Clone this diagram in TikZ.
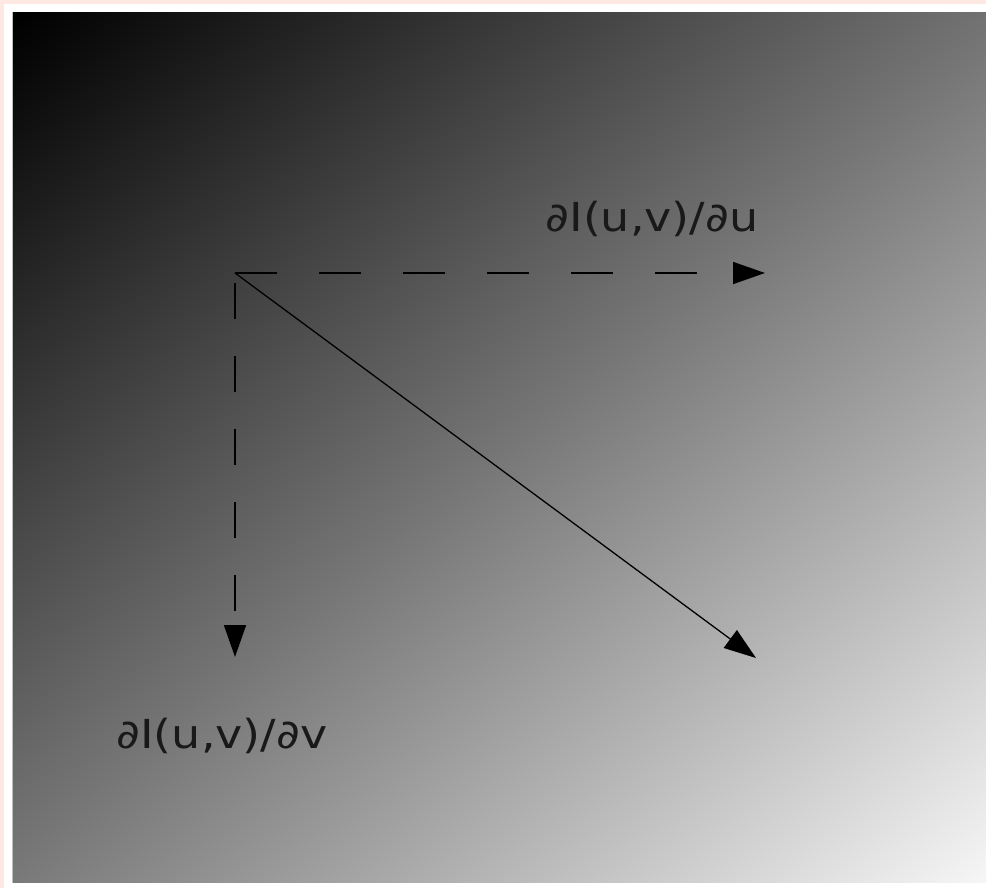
\documentclass[tikz,border=0pt]{standalone}
\usepackage{fontspec}
\setmainfont{DejaVu Sans}
\usetikzlibrary{arrows.meta, positioning, calc}

% diagonal grey ramp (black top left -> near white bottom right)
\pgfdeclareverticalshading{gradSq}{100bp}{color(0bp)=(black); color(15bp)=(black); color(50bp)=(black!54); color(85bp)=(white!96!black); color(100bp)=(white!96!black)}
\definecolor{pagePink}{RGB}{253,232,226}

\tikzset{
    vecTip/.style={-{Triangle[length=32pt, width=22pt]}},
    dashU/.style={vecTip, line width=1.6pt, dash pattern=on 42pt off 42pt},
    dashV/.style={vecTip, line width=1.6pt, dash pattern=on 36pt off 37pt, dash phase=63pt},
    gradLine/.style={vecTip, line width=1.3pt},
    labelText/.style={font=\fontsize{40}{46}\selectfont, text=black!90, xscale=1.15, anchor=base, inner sep=0pt}
}

\begin{document}
\begin{tikzpicture}[x=1pt, y=-1pt]

    % Page and frame
    \useasboundingbox (0,0) rectangle (986,888);
    \fill[pagePink] (0,0) rectangle (986,888);
    \fill[white] (4,4) rectangle (986,888);
    \fill[black!25] (12,12) rectangle (986,883);
    \shade[shading=gradSq, shading angle=-140] (13,13) rectangle (986,882);

    % Coordinates
    \coordinate (O) at (235, 273);
    \coordinate (Eu) at (765, 273);
    \coordinate (Ev) at (235, 657);
    \coordinate (Eg) at (756, 658);

    % Partial derivatives (dashed) and gradient (solid)
    \draw[dashU] (O) -- (Eu);
    \draw[dashV] (O) -- (Ev);
    \draw[gradLine] (O) -- (Eg);

    % Labels
    \node[labelText] (Lu) at (652, 231) {∂I(u,v)/∂u};
    \node[labelText] (Lv) at (222, 748) {∂I(u,v)/∂v};

\end{tikzpicture}
\end{document}
